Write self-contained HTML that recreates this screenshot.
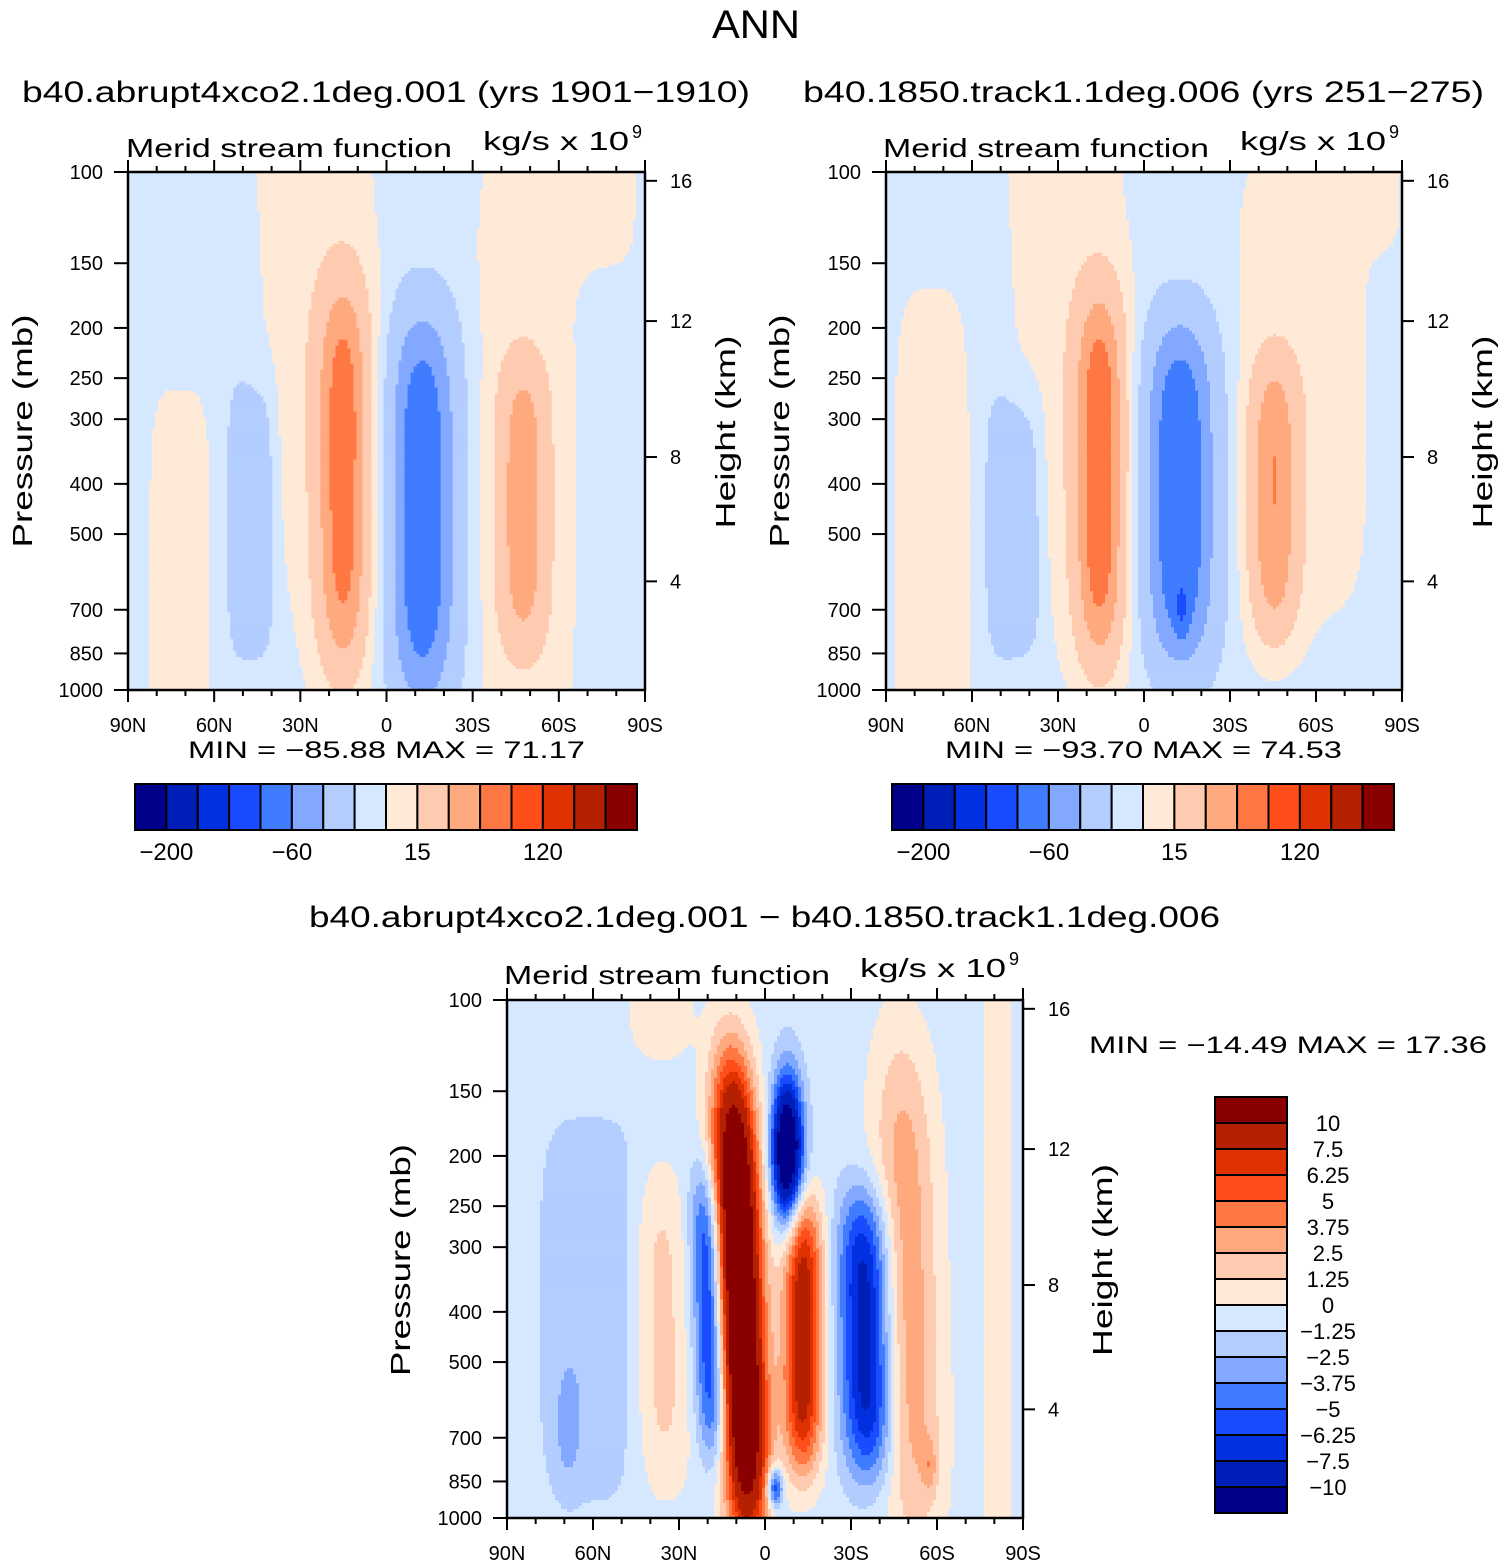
<!DOCTYPE html>
<html><head><meta charset="utf-8"><title>ANN Meridional stream function</title>
<style>
html,body{margin:0;padding:0;background:#fff;}
svg{display:block;font-family:"Liberation Sans",sans-serif;}
</style></head>
<body>
<svg id="chart" width="1504" height="1566" viewBox="0 0 1504 1566" xmlns="http://www.w3.org/2000/svg">
<rect x="0" y="0" width="1504" height="1566" fill="#fff"/>
<g id="cells"></g>
<g id="axes"></g>
<g id="texts" fill="#000">
<text x="712" y="38" font-size="40" textLength="88" lengthAdjust="spacingAndGlyphs">ANN</text>
<text x="22" y="102" font-size="30" textLength="728" lengthAdjust="spacingAndGlyphs">b40.abrupt4xco2.1deg.001 (yrs 1901−1910)</text>
<text x="803" y="102" font-size="30" textLength="681" lengthAdjust="spacingAndGlyphs">b40.1850.track1.1deg.006 (yrs 251−275)</text>
<text x="126" y="157" font-size="26" textLength="326" lengthAdjust="spacingAndGlyphs">Merid stream function</text>
<text x="483" y="150" font-size="26" textLength="146" lengthAdjust="spacingAndGlyphs">kg/s x 10</text>
<text x="632" y="138" font-size="18">9</text>
<text x="883" y="157" font-size="26" textLength="326" lengthAdjust="spacingAndGlyphs">Merid stream function</text>
<text x="1240" y="150" font-size="26" textLength="146" lengthAdjust="spacingAndGlyphs">kg/s x 10</text>
<text x="1389" y="138" font-size="18">9</text>
<text x="188" y="758" font-size="24" textLength="397" lengthAdjust="spacingAndGlyphs">MIN = −85.88   MAX =  71.17</text>
<text x="945" y="758" font-size="24" textLength="397" lengthAdjust="spacingAndGlyphs">MIN = −93.70   MAX =  74.53</text>
<text x="309" y="927" font-size="30" textLength="911" lengthAdjust="spacingAndGlyphs">b40.abrupt4xco2.1deg.001 − b40.1850.track1.1deg.006</text>
<text x="504" y="984" font-size="26" textLength="326" lengthAdjust="spacingAndGlyphs">Merid stream function</text>
<text x="860" y="977" font-size="26" textLength="146" lengthAdjust="spacingAndGlyphs">kg/s x 10</text>
<text x="1009" y="965" font-size="18">9</text>
<text x="1089" y="1053" font-size="24" textLength="398" lengthAdjust="spacingAndGlyphs">MIN = −14.49   MAX =  17.36</text>
<text transform="translate(32,431) rotate(-90)" text-anchor="middle" font-size="28" textLength="233" lengthAdjust="spacingAndGlyphs">Pressure (mb)</text>
<text transform="translate(735,432) rotate(-90)" text-anchor="middle" font-size="28" textLength="193" lengthAdjust="spacingAndGlyphs">Height (km)</text>
<text transform="translate(789,431) rotate(-90)" text-anchor="middle" font-size="28" textLength="233" lengthAdjust="spacingAndGlyphs">Pressure (mb)</text>
<text transform="translate(1492,432) rotate(-90)" text-anchor="middle" font-size="28" textLength="193" lengthAdjust="spacingAndGlyphs">Height (km)</text>
<text transform="translate(410,1260) rotate(-90)" text-anchor="middle" font-size="28" textLength="232" lengthAdjust="spacingAndGlyphs">Pressure (mb)</text>
<text transform="translate(1112,1260) rotate(-90)" text-anchor="middle" font-size="28" textLength="192" lengthAdjust="spacingAndGlyphs">Height (km)</text>
</g>
</svg>
<script>
// ---- data ----
const colors = ["#00008a","#001fb8","#0030e0","#1a4cff","#3f7cff","#82a9ff","#b3cdff","#d6e8ff","#ffe9d7","#ffcbb0","#ffa97f","#ff7843","#ff4e19","#e03200","#b42000","#8a0000"];
const levelsTop = [-200,-160,-120,-80,-60,-40,-15,0,15,40,60,80,120,160,200];
const levelsDiff = [-10,-7.5,-6.25,-5,-3.75,-2.5,-1.25,0,1.25,2.5,3.75,5,6.25,7.5,10];
const topBarLabels = ["−200","−60","15","120"];
const topBarLabelIdx = [0,4,8,12];
const diffBarLabels = ["−10","−7.5","−6.25","−5","−3.75","−2.5","−1.25","0","1.25","2.5","3.75","5","6.25","7.5","10"];
const presTicks = [100,150,200,250,300,400,500,700,850,1000];
const latTicks = [90,60,30,0,-30,-60,-90];
const latLabels = ["90N","60N","30N","0","30S","60S","90S"];
const kmTicks = ["16","12","8","4"];
const kmPressure = [104,194,355,617];

// panel 1 blobs (lat deg, pressure mb, amplitude, widths)
const p1Bg = -6;
const p1Lat  = [71.9, 47.2, 25, 15.1, -12.4, -48, -72, -47.5];
const p1Pres = [631, 468, 100, 393, 447, 355, 100, 440];
const p1Amp  = [10, -25, 12, 70, -72, 12, 12, 50];
const p1SLat = [12.4, 8.2, 22, 9.4, 12.2, 19, 16, 8.4];
const p1SLog = [0.45, 0.27, 0.9, 0.386, 0.39, 0.7, 0.2, 0.284];
const p1ExLat = [4,4,4,2,2,4,4,2];
const p1ExLog = [4,4,4,4,4,4,4,4];
const p1Tilt = [0,0,-8,0,0,0,0,0];

// panel 2 blobs
const p2Bg = -6;
const p2Lat  = [74, 45.3, 27.5, 15.4, -12.5, -13.2, -55, -80, -45.3];
const p2Pres = [562, 479, 100, 394, 417, 716, 251, 100, 430];
const p2Amp  = [10, -25, 12, 74.5, -74, -18, 12, 12, 55];
const p2SLat = [15.5, 10, 22, 9, 12.9, 2.5, 25, 10, 8.7];
const p2SLog = [0.62, 0.26, 0.9, 0.367, 0.344, 0.05, 0.5, 0.15, 0.276];
const p2ExLat = [4,4,4,2,2,2,4,4,2];
const p2ExLog = [4,4,4,4,4,2,4,4,4];
const p2Tilt = [0,0,-9,0,0,0,0,0,0];

// difference panel blobs
const p3Bg = -0.6;
const p3Lat  = [8.7, -7.7, 19.2, -13.2, -3.5, -35.2, -49.9, -57.5, -81.3, 36, 36.6, 61, 68.7];
const p3Pres = [380, 195, 405, 443, 875, 443, 363, 790, 316, 434, 100, 396, 676];
const p3Amp  = [17, -14.5, -7.2, 9.5, -7, -8, 4, 2, 1.5, 2.2, 1.5, -1.6, -1.5];
const p3SLat = [7.7, 5.2, 5.6, 6.8, 2.7, 9, 10.7, 2.5, 5, 10.7, 11, 17.9, 4];
const p3SLog = [0.454, 0.135, 0.28, 0.265, 0.039, 0.274, 0.49, 0.05, 1.0, 0.31, 0.12, 0.38, 0.1];
const p3ExLat = [2,2,2,2,2,2,2,2,4,2,2,4,2];
const p3ExLog = [4,2,4,4,2,4,4,2,4,4,4,4,2];
const p3Tilt = [-6.3,0,-6,0,0,-4,-5,0,0,-3,0,0,0];

// ---- rendering ----
const NS = "http://www.w3.org/2000/svg";
const cells = document.getElementById('cells');
const axes = document.getElementById('axes');
const texts = document.getElementById('texts');

function mk(tag, attrs, parent){
  const e = document.createElementNS(NS, tag);
  for (const k in attrs) e.setAttribute(k, attrs[k]);
  parent.appendChild(e);
  return e;
}
function makeX(x0,w){ return lat => x0 + (90-lat)/180*w; }
function makeY(y0,h){ return p => y0 + (Math.log10(p)-2)*h; }
function colorIndex(v, levels){ let i=0; while(i<levels.length && v>=levels[i]) i++; return i; }

function fieldValue(lat, lp, P){
  let v = P.bg;
  for (let k=0;k<P.lat.length;k++){
    const lpc = Math.log10(P.pres[k]);
    const dl = lp - lpc;
    const latc = P.lat[k] + P.tilt[k]*dl;
    const a = Math.abs((lat-latc)/P.sLat[k]);
    const b = Math.abs(dl/P.sLog[k]);
    const r = Math.pow(a, P.ex[k]) + Math.pow(b, P.ey[k]);
    if (r < 30) v += P.amp[k]*Math.exp(-r);
  }
  return v;
}

function drawPanel(name, x0, y0, w, h, P, levels){
  const xS = makeX(x0,w), yS = makeY(y0,h);
  const nx = 172, ny = 173;
  const g = mk('g', {}, cells);
  
  
  for (let j=0;j<ny;j++){
    const lp = 2 + (j+0.5)/ny;
    const yTop = yS(Math.pow(10, 2 + j/ny));
    const yBot = yS(Math.pow(10, 2 + (j+1)/ny));
    let runStart = 0, runColor = -1;
    for (let i=0;i<=nx;i++){
      let ci = -2;
      if (i<nx){
        const lat = 90 - (i+0.5)/nx*180;
        ci = colorIndex(fieldValue(lat, lp, P), levels);
      }
      if (ci !== runColor){
        if (runColor >= 0){
          const xa = xS(90 - runStart/nx*180), xb = xS(90 - i/nx*180);
          const r = mk('rect', {x:xa.toFixed(2), y:yTop.toFixed(2), width:(xb-xa+0.6).toFixed(2), height:(yBot-yTop+0.6).toFixed(2), fill:colors[runColor]}, g);
          
          
        }
        runColor = ci; runStart = i;
      }
    }
  }
  const fr = mk('rect', {x:x0, y:y0, width:w, height:h, fill:'none', stroke:'#000', 'stroke-width':2.5}, axes);
  
  
  for (let lat=90; lat>=-90; lat-=10){
    const major = (lat % 30 === 0);
    const x = xS(lat), L = major ? 12 : 6;
    mk('line', {x1:x, y1:y0+h, x2:x, y2:y0+h+L, stroke:'#000', 'stroke-width':2}, axes);
    mk('line', {x1:x, y1:y0, x2:x, y2:y0-L, stroke:'#000', 'stroke-width':2}, axes);
  }
  latTicks.forEach((lat, i) => {
    const t = mk('text', {x:xS(lat), y:y0+h+42, 'text-anchor':'middle', 'font-size':20}, texts);
    t.textContent = latLabels[i];
    
    
  });
  presTicks.forEach(p => {
    const y = yS(p);
    mk('line', {x1:x0-14, y1:y, x2:x0, y2:y, stroke:'#000', 'stroke-width':2}, axes);
    const t = mk('text', {x:x0-25, y:y+7, 'text-anchor':'end', 'font-size':20}, texts);
    t.textContent = String(p);
    
    
  });
  kmPressure.forEach((p, i) => {
    const y = yS(p);
    mk('line', {x1:x0+w, y1:y, x2:x0+w+12, y2:y, stroke:'#000', 'stroke-width':2}, axes);
    const t = mk('text', {x:x0+w+25, y:y+7, 'text-anchor':'start', 'font-size':20}, texts);
    t.textContent = kmTicks[i];
    
    
  });
}

drawPanel('panel1', 128, 172, 517, 518,
  {bg:p1Bg, lat:p1Lat, pres:p1Pres, amp:p1Amp, sLat:p1SLat, sLog:p1SLog, ex:p1ExLat, ey:p1ExLog, tilt:p1Tilt}, levelsTop);
drawPanel('panel2', 886, 172, 516, 518,
  {bg:p2Bg, lat:p2Lat, pres:p2Pres, amp:p2Amp, sLat:p2SLat, sLog:p2SLog, ex:p2ExLat, ey:p2ExLog, tilt:p2Tilt}, levelsTop);
drawPanel('diff-panel', 507, 1000, 516, 518,
  {bg:p3Bg, lat:p3Lat, pres:p3Pres, amp:p3Amp, sLat:p3SLat, sLog:p3SLog, ex:p3ExLat, ey:p3ExLog, tilt:p3Tilt}, levelsDiff);

function hBar(name, x0, y0, w, h){
  const bw = w/colors.length;
  colors.forEach((c,i) => {
    const r = mk('rect', {x:x0+i*bw, y:y0, width:bw, height:h, fill:c, stroke:'#000', 'stroke-width':2}, axes);
    
    
  });
  topBarLabelIdx.forEach((k,i) => {
    const t = mk('text', {x:x0+(k+1)*bw, y:y0+h+30, 'text-anchor':'middle', 'font-size':24}, texts);
    t.textContent = topBarLabels[i];
    
    
  });
}
hBar('colorbar1', 135, 784, 502, 46);
hBar('colorbar2', 892, 784, 502, 46);

(function(){
  const x0 = 1215, y0 = 1097, w = 72, bh = 26, n = colors.length;
  colors.forEach((c,i) => {
    const r = mk('rect', {x:x0, y:y0+(n-1-i)*bh, width:w, height:bh, fill:c, stroke:'#000', 'stroke-width':2}, axes);
    
    
  });
  levelsDiff.forEach((v,k) => {
    const y = y0 + (n-1-k)*bh;
    const t = mk('text', {x:1328, y:y+8, 'text-anchor':'middle', 'font-size':22}, texts);
    t.textContent = diffBarLabels[k];
    
    
  });
})();
</script>
</body></html>
